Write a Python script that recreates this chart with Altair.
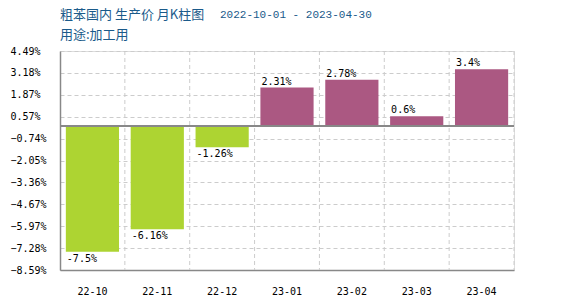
import altair as alt
import pandas as pd

months = ["22-10", "22-11", "22-12", "23-01", "23-02", "23-03", "23-04"]
values = [-7.5, -6.16, -1.26, 2.31, 2.78, 0.6, 3.4]
labels = ["-7.5%", "-6.16%", "-1.26%", "2.31%", "2.78%", "0.6%", "3.4%"]
y_ticks = [4.49, 3.18, 1.87, 0.57, -0.74, -2.05, -3.36, -4.67, -5.97, -7.28, -8.59]
title_main = "粗苯国内 生产价 月K柱图"
title_dates = "2022-10-01 - 2023-04-30"
subtitle = "用途:加工用"

df = pd.DataFrame({"month": months, "value": values, "label": labels})
df["sign"] = ["neg" if v < 0 else "pos" for v in values]
df["zero"] = 0.0

FONT = "DejaVu Sans Mono"
CJK = "Noto Sans CJK SC"
TITLE_COLOR = "#1a5a8a"
xscale = alt.Scale(domain=months, paddingInner=0, paddingOuter=0)
yscale = alt.Scale(domain=[-8.59, 4.49], nice=False, zero=False)

xaxis = alt.Axis(title=None, labelAngle=0, labelFont=FONT, labelFontSize=10,
                 labelColor="#000000", labelPadding=16, ticks=False,
                 domainColor="#888888", domainWidth=1.5, grid=False)
yaxis = alt.Axis(title=None, values=y_ticks, labelOverlap=False,
                 labelExpr="format(datum.value, '.2f') + '%'",
                 labelFont=FONT, labelFontSize=10, labelColor="#000000",
                 labelAlign="left", labelPadding=50, ticks=False,
                 domainColor="#888888", domainWidth=1.5,
                 grid=True, gridColor="#cccccc", gridDash=[4, 3])

base = alt.Chart(df)

bars = base.mark_bar(width={"band": 0.82}).encode(
    x=alt.X("month:N", scale=xscale, sort=months, axis=xaxis),
    y=alt.Y("value:Q", scale=yscale, axis=yaxis),
    y2="zero:Q",
    color=alt.Color("sign:N", scale=alt.Scale(domain=["neg", "pos"], range=["#add432", "#ab5882"]),
                    legend=None),
)

vrules = base.mark_rule(color="#cccccc", strokeDash=[4, 3]).encode(
    x=alt.X("month:N", scale=xscale, sort=months, bandPosition=1, axis=xaxis),
)

zero_rule = base.mark_rule(color="#888888", strokeWidth=1.5).encode(
    y=alt.Y("zero:Q", scale=yscale, axis=yaxis),
)

neg_text = base.transform_filter("datum.value < 0").mark_text(
    align="left", baseline="top", dx=1, dy=2, font=FONT, fontSize=10, color="#000000"
).encode(
    x=alt.X("month:N", scale=xscale, sort=months, bandPosition=0.09, axis=xaxis),
    y=alt.Y("value:Q", scale=yscale, axis=yaxis),
    text="label:N",
)

pos_text = base.transform_filter("datum.value >= 0").mark_text(
    align="left", baseline="bottom", dx=1, dy=-1, font=FONT, fontSize=10, color="#000000"
).encode(
    x=alt.X("month:N", scale=xscale, sort=months, bandPosition=0.09, axis=xaxis),
    y=alt.Y("value:Q", scale=yscale, axis=yaxis),
    text="label:N",
)

title_df = pd.DataFrame({"t": [title_main]})
t1 = alt.Chart(title_df).mark_text(
    align="left", baseline="middle", font=CJK, fontSize=13, color=TITLE_COLOR
).encode(x=alt.value(0), y=alt.value(-36), text=alt.value(title_main))
t2 = alt.Chart(title_df).mark_text(
    align="left", baseline="middle", font="Liberation Mono", fontSize=11, color=TITLE_COLOR
).encode(x=alt.value(160), y=alt.value(-36), text=alt.value(title_dates))
t3 = alt.Chart(title_df).mark_text(
    align="left", baseline="middle", font=CJK, fontSize=13, color=TITLE_COLOR
).encode(x=alt.value(0), y=alt.value(-16), text=alt.value(subtitle))

chart = alt.layer(vrules, bars, zero_rule, neg_text, pos_text, t1, t2, t3).properties(
    width=454, height=219,
    autosize=alt.AutoSizeParams(type="none"),
    padding={"left": 60, "top": 51, "right": 56, "bottom": 30},
).configure_view(stroke=None).configure(background="#ffffff").configure_axisY(labelOverlap=False)

chart.save("out.html", embed_options={"renderer": "svg", "actions": False})
